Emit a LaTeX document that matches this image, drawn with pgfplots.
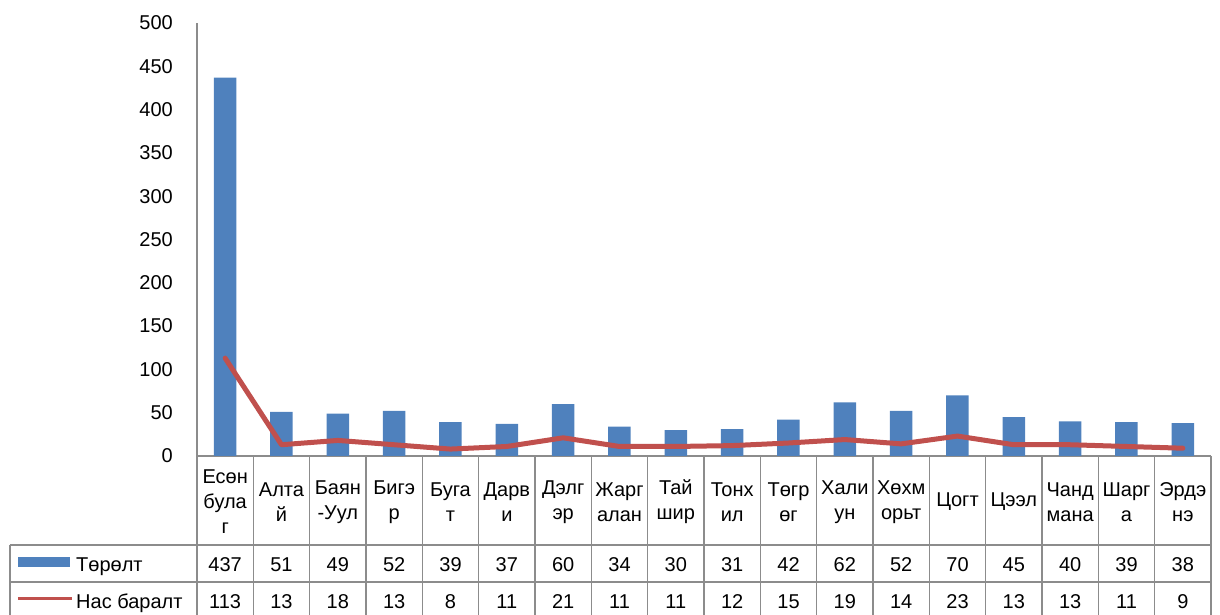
\documentclass[border=0pt]{standalone}
\usepackage{fontspec}
\setmainfont{Liberation Sans}
\usepackage{pgfplots}
\pgfplotsset{compat=1.18}
\definecolor{barblue}{HTML}{4F81BD}
\definecolor{linered}{HTML}{C0504D}
\definecolor{gridgray}{HTML}{8C8C8C}

\begin{document}
\fontsize{20}{25}\selectfont
\begin{tikzpicture}[x=1pt,y=1pt]
\useasboundingbox (-197,-159) rectangle (1023,456);
\begin{axis}[
  at={(0,0)}, anchor=south west,
  scale only axis, width=1014pt, height=433pt,
  xmin=-0.5, xmax=17.5, ymin=0, ymax=500,
  axis x line*=bottom, axis y line*=left,
  ytick={0,50,...,500}, xtick=\empty,
  major tick length=0pt,
  axis line style={gridgray, line width=1.2pt, -},
  yticklabel style={anchor=east, inner sep=0pt, xshift=-24pt,
    font=\fontsize{20}{24}\selectfont},
  /pgf/number format/assume math mode=true,
  clip=false,
]
% Төрөлт
\addplot[ybar, bar width=22.5pt, bar shift=0pt, fill=barblue, draw=none] coordinates {
  (0,437) (1,51) (2,49) (3,52) (4,39) (5,37) (6,60) (7,34) (8,30)
  (9,31) (10,42) (11,62) (12,52) (13,70) (14,45) (15,40) (16,39) (17,38)
};
% Нас баралт
\addplot[linered, line width=5pt, line join=round, line cap=round] coordinates {
  (0,113) (1,13) (2,18) (3,13) (4,8) (5,11) (6,21) (7,11) (8,11)
  (9,12) (10,15) (11,19) (12,14) (13,23) (14,13) (15,13) (16,11) (17,9)
};
\end{axis}

% data table
\def\cw{56.3333}
\begin{scope}[gridgray, line width=1.2pt]
  \foreach \i in {0,...,18} \draw ({\i*\cw},0) -- ({\i*\cw},-160);
  \draw (-187,-89) -- (1014,-89);
  \draw (-187,-126) -- (1014,-126);
  \draw (-187,-89) -- (-187,-160);
\end{scope}

\foreach \i/\t in {0/{Есөн\\була\\г},1/{Алта\\й},2/{Баян\\-Уул},3/{Бигэ\\р},
  4/{Буга\\т},5/{Дарв\\и},6/{Дэлг\\эр},7/{Жарг\\алан},8/{Тай\\шир},
  9/{Тонх\\ил},10/{Төгр\\өг},11/{Хали\\ун},12/{Хөхм\\орьт},13/{Цогт},
  14/{Цээл},15/{Чанд\\мана},16/{Шарг\\а},17/{Эрдэ\\нэ}}
  \node[align=center, inner sep=0pt] at ({(\i+0.5)*\cw},-46) {\t};

\foreach \v [count=\i from 0] in {437,51,49,52,39,37,60,34,30,31,42,62,52,70,45,40,39,38}
  \node[anchor=base, inner sep=0pt] at ({(\i+0.5)*\cw},-116) {\v};
\foreach \v [count=\i from 0] in {113,13,18,13,8,11,21,11,11,12,15,19,14,23,13,13,11,9}
  \node[anchor=base, inner sep=0pt] at ({(\i+0.5)*\cw},-152) {\v};

% legend keys
\fill[barblue] (-179,-101) rectangle (-127,-111);
\node[anchor=base west, inner sep=0pt] at (-121,-116) {Төрөлт};
\draw[linered, line width=3pt] (-179,-142) -- (-125,-142);
\node[anchor=base west, inner sep=0pt] at (-121,-152) {Нас баралт};
\end{tikzpicture}
\end{document}
